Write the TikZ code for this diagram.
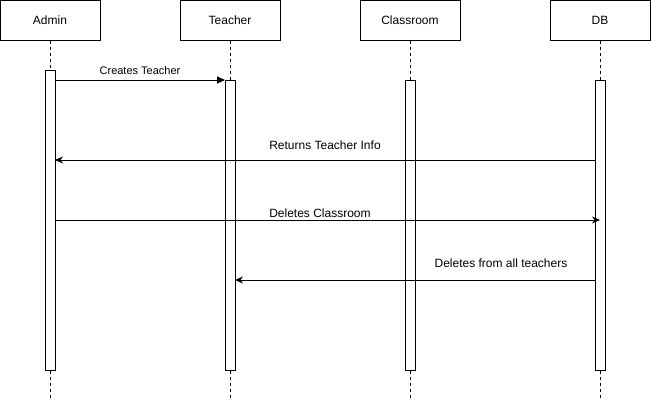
\documentclass[tikz,border=0pt]{standalone}
\usepackage{fontspec}
\setmainfont{Liberation Sans}
\usetikzlibrary{arrows.meta}
\begin{document}
\begin{tikzpicture}[x=1pt,y=-1pt,line width=1pt,
  actor/.style={draw,minimum width=100pt,minimum height=40pt,inner sep=0pt,font=\fontsize{12}{14}\selectfont},
  lifeline/.style={dash pattern=on 3pt off 3pt,line width=0.8pt},
  actbar/.style={draw,fill=white,line width=1pt},
  msg/.style={-{Stealth[length=8pt,width=7pt]}},
  msgb/.style={-{Triangle[length=8pt,width=7pt]}},
  lbl/.style={font=\fontsize{12}{14}\selectfont,inner sep=0pt},
  lbls/.style={font=\fontsize{11}{13}\selectfont,inner sep=0pt}]
\useasboundingbox (0,0) rectangle (651,402);
% actors
\node[actor] (admin) at (50,20) {Admin};
\node[actor] (teacher) at (230,20) {Teacher};
\node[actor] (classroom) at (410,20) {Classroom};
\node[actor] (db) at (600,20) {DB};
% lifeline ends
\coordinate (adminEnd) at (50,399);
\coordinate (teacherEnd) at (230,399);
\coordinate (classroomEnd) at (410,399);
\coordinate (dbEnd) at (600,399);
\draw[lifeline] (admin.south) -- (adminEnd);
\draw[lifeline] (teacher.south) -- (teacherEnd);
\draw[lifeline] (classroom.south) -- (classroomEnd);
\draw[lifeline] (db.south) -- (dbEnd);
% activation bars
\draw[actbar] (45,70) rectangle (55,370);
\draw[actbar] (225,80) rectangle (235,370);
\draw[actbar] (405,80) rectangle (415,370);
\draw[actbar] (595,80) rectangle (605,370);
\coordinate (a1) at (55,80);
\coordinate (t1) at (225,80);
\coordinate (d2) at (595,160);
\coordinate (a2) at (55,160);
\coordinate (a3) at (55,220);
\coordinate (d3) at (600,220);
\coordinate (d4) at (595,280);
\coordinate (t4) at (235,280);
% messages
\draw[msgb] (a1) -- (t1);
\node[lbls] (m1) at (140,71) {Creates Teacher};
\draw[msg] (d2) -- (a2);
\node[lbl] (m2) at (325,145) {Returns Teacher Info};
\draw[msg] (a3) -- (d3);
\node[lbl] (m3) at (320,213) {Deletes Classroom};
\draw[msg] (d4) -- (t4);
\node[lbl] (m4) at (501,263) {Deletes from all teachers};
\end{tikzpicture}
\end{document}
